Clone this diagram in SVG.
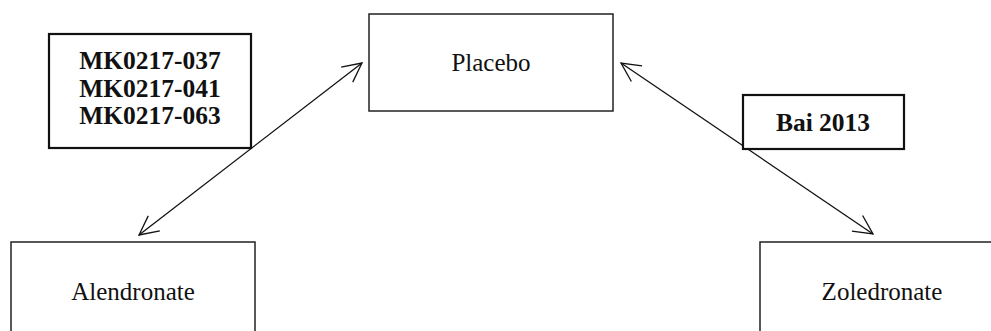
<svg xmlns="http://www.w3.org/2000/svg" width="991" height="331" viewBox="0 0 991 331">
  <style>
    .box { fill: #ffffff; stroke: #222222; stroke-width: 1.5; }
    .label { fill: #ffffff; stroke: #111111; stroke-width: 2.2; }
    .name { font-family: "Liberation Serif", "Times New Roman", serif; font-size: 25px; fill: #111111; text-anchor: middle; }
    .study { font-family: "Liberation Serif", "Times New Roman", serif; font-size: 25.5px; font-weight: bold; fill: #111111; text-anchor: middle; }
    .link { stroke: #111111; stroke-width: 1.3; fill: none; marker-start: url(#head); marker-end: url(#head); }
  </style>
  <defs>
    <marker id="head" viewBox="-21 -11 23 22" refX="0" refY="0" markerWidth="23" markerHeight="22" markerUnits="userSpaceOnUse" orient="auto-start-reverse">
      <path d="M -19 -9.5 L 0 0 L -19 9.5" fill="none" stroke="#111111" stroke-width="1.3"/>
    </marker>
  </defs>

  <rect width="991" height="331" fill="#ffffff"/>

  <g id="connectors">
    <line class="link" x1="362" y1="63" x2="139" y2="235"/>
    <line class="link" x1="621" y1="63" x2="873" y2="234"/>
  </g>

  <g id="placebo">
    <rect class="box" x="369" y="14" width="244" height="97"/>
    <text class="name" x="491" y="71">Placebo</text>
  </g>

  <g id="alendronate">
    <rect class="box" x="11" y="242" width="244" height="110"/>
    <text class="name" x="133" y="300">Alendronate</text>
  </g>

  <g id="zoledronate">
    <rect class="box" x="760" y="242" width="244" height="110"/>
    <text class="name" x="882" y="300">Zoledronate</text>
  </g>

  <g id="studies-alendronate-placebo">
    <rect class="label" x="49" y="34" width="202" height="114"/>
    <text class="study" x="150" y="69">MK0217-037</text>
    <text class="study" x="150" y="96.5">MK0217-041</text>
    <text class="study" x="150" y="124">MK0217-063</text>
  </g>

  <g id="studies-placebo-zoledronate">
    <rect class="label" x="743" y="95" width="161" height="54"/>
    <text class="study" x="823" y="131">Bai 2013</text>
  </g>
</svg>
